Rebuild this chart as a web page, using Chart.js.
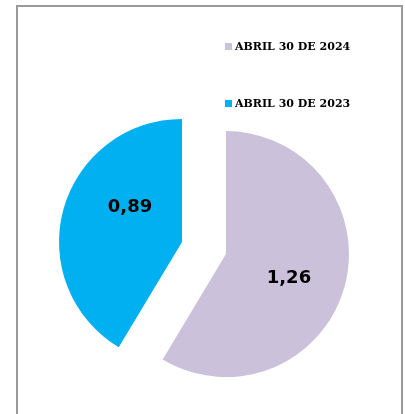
<!DOCTYPE html>
<html>
<head>
<meta charset="utf-8">
<script src="https://cdn.jsdelivr.net/npm/chart.js@4.4.0/dist/chart.umd.min.js"></script>
<style>
  html, body { margin: 0; padding: 0; background: #fff; overflow: hidden; }
  #wrap { position: relative; width: 405px; height: 414px; }
  #frame { position: absolute; left: 16px; top: 5px; width: 387px; height: 420px; border: 2px solid #999; box-sizing: border-box; pointer-events: none; }
  canvas { position: absolute; left: 0; top: 0; }
</style>
</head>
<body>
<div id="wrap">
  <canvas id="c" width="405" height="414"></canvas>
  <div id="frame"></div>
</div>
<script>
const categories = ['ABRIL 30 DE 2024', 'ABRIL 30 DE 2023'];
const values = [1.26, 0.89];
const colors = ['#CCC1DA', '#00B0F0'];
const explodeDist = 22.8;

// draw each arc through the library's element, pulled out along its bisector
const explodePlugin = {
  id: 'explode',
  beforeDatasetsDraw(chart) {
    const ctx = chart.ctx;
    const meta = chart.getDatasetMeta(0);
    meta.data.forEach((arc) => {
      const mid = (arc.startAngle + arc.endAngle) / 2;
      ctx.save();
      ctx.translate(Math.cos(mid) * explodeDist, Math.sin(mid) * explodeDist);
      arc.draw(ctx);
      ctx.restore();
    });
    return false;
  }
};

// legend drawn from chart data
const legendPlugin = {
  id: 'customLegend',
  afterDraw(chart) {
    const ctx = chart.ctx;
    const ds = chart.data.datasets[0];
    const x0 = 225, baselines = [50, 107];
    ctx.save();
    ctx.font = 'bold 11px "DejaVu Serif"';
    ctx.textBaseline = 'alphabetic';
    ctx.textAlign = 'left';
    chart.data.labels.forEach((lab, i) => {
      ctx.fillStyle = ds.backgroundColor[i];
      ctx.fillRect(x0, baselines[i] - 7, 7, 7);
      ctx.fillStyle = '#000';
      ctx.fillText(lab, x0 + 10, baselines[i]);
    });
    ctx.restore();
  }
};

// data labels positioned from arc geometry
const labelAdjust = [{frac: 0.548, dAng: 0.094}, {frac: 0.51, dAng: 0.323}];
const dataLabelPlugin = {
  id: 'dataLabels',
  afterDraw(chart) {
    const ctx = chart.ctx;
    const meta = chart.getDatasetMeta(0);
    ctx.save();
    ctx.font = 'bold 18px "DejaVu Sans"';
    ctx.fillStyle = '#000';
    ctx.textAlign = 'center';
    ctx.textBaseline = 'middle';
    meta.data.forEach((arc, i) => {
      const mid = (arc.startAngle + arc.endAngle) / 2;
      const cx = arc.x + Math.cos(mid) * explodeDist;
      const cy = arc.y + Math.sin(mid) * explodeDist;
      const a = mid + labelAdjust[i].dAng;
      const d = arc.outerRadius * labelAdjust[i].frac;
      const txt = values[i].toFixed(2).replace('.', ',');
      ctx.fillText(txt, cx + Math.cos(a) * d, cy + Math.sin(a) * d);
    });
    ctx.restore();
  }
};

new Chart(document.getElementById('c'), {
  type: 'pie',
  data: {
    labels: categories,
    datasets: [{
      data: values,
      backgroundColor: colors,
      borderWidth: 0,
      hoverOffset: 0
    }]
  },
  options: {
    responsive: false,
    animation: false,
    radius: 123,
    layout: { padding: { left: 3, right: 0, top: 82, bottom: 0 } },
    plugins: {
      legend: { display: false },
      tooltip: { enabled: false }
    },
    events: []
  },
  plugins: [explodePlugin, legendPlugin, dataLabelPlugin]
});
</script>
</body>
</html>
